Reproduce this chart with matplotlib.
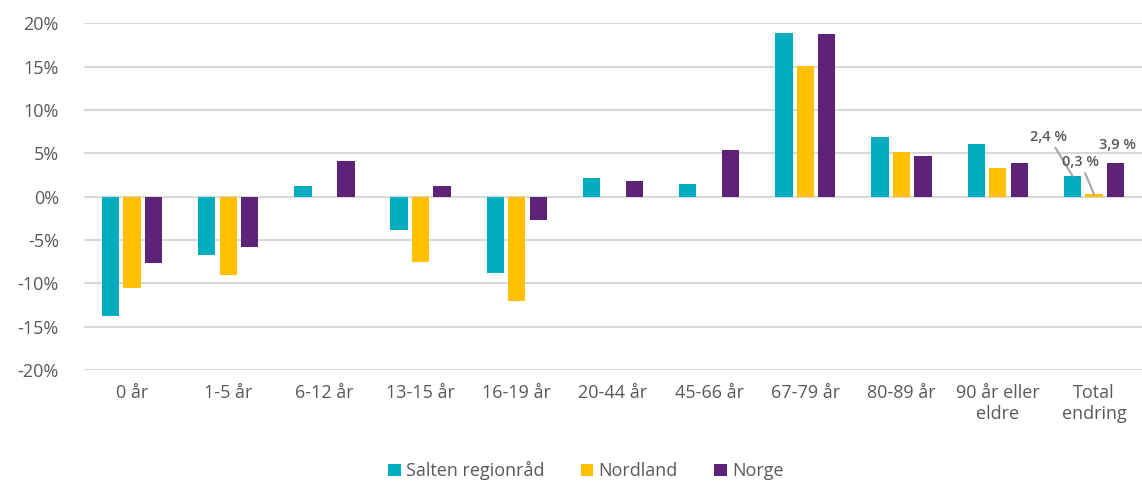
import numpy as np
from matplotlib import pyplot as plt

plt.rcParams['font.family'] = ['Open Sans', 'DejaVu Sans']

categories = ["0 år", "1-5 år", "6-12 år", "13-15 år", "16-19 år", "20-44 år",
              "45-66 år", "67-79 år", "80-89 år", "90 år eller\neldre", "Total\nendring"]
salten = [-13.8, -6.7, 1.2, -3.9, -8.8, 2.2, 1.5, 18.9, 6.9, 6.1, 2.4]
nordland = [-10.5, -9.0, 0.0, -7.5, -12.0, 0.0, 0.0, 15.1, 5.2, 3.3, 0.3]
norge = [-7.6, -5.8, 4.1, 1.2, -2.7, 1.8, 5.4, 18.8, 4.7, 3.9, 3.9]
series_names = ["Salten regionråd", "Nordland", "Norge"]
colors = ["#00ACBE", "#FFC000", "#5C2379"]

fig = plt.figure(figsize=(11.42, 4.84), dpi=100)
ax = fig.add_axes([0.0735, 0.2355, 0.9265, 0.7165])

x = np.arange(len(categories))
w = 0.18
step = 0.223
for i, (vals, name, c) in enumerate(zip([salten, nordland, norge], series_names, colors)):
    ax.bar(x + (i - 1) * step, vals, width=w, color=c, label=name, zorder=3)

ax.set_xlim(-0.5, len(categories) - 0.5)
ax.set_ylim(-20, 20)
ax.set_yticks(np.arange(-20, 21, 5))
ax.set_yticklabels([f"{v}%" for v in range(-20, 21, 5)])
ax.set_xticks(x)
ax.set_xticklabels(categories)
ax.tick_params(axis='both', length=0, labelsize=13, labelcolor="#595959")
ax.tick_params(axis='y', pad=18)
ax.tick_params(axis='x', pad=10)
ax.grid(axis='y', color="#D9D9D9", linewidth=1.5, zorder=0)
for s in ax.spines.values():
    s.set_visible(False)

# data labels for the last group
last = len(categories) - 1
lab_style = dict(fontsize=10.5, color="#595959", fontweight='semibold')
ax.annotate("2,4 %", xy=(last - step, salten[last]), xytext=(last - 0.47, 6.9),
            ha='center', va='center', **lab_style,
            arrowprops=dict(arrowstyle='-', color="#A6A6A6", lw=1.5, shrinkA=1, shrinkB=0))
ax.annotate("0,3 %", xy=(last, nordland[last]), xytext=(last - 0.14, 4.0),
            ha='center', va='center', **lab_style,
            arrowprops=dict(arrowstyle='-', color="#A6A6A6", lw=1.5, shrinkA=1, shrinkB=0))
ax.text(last + step + 0.02, norge[last] + 2.1, "3,9 %", ha='center', va='center', **lab_style)

leg = fig.legend(*ax.get_legend_handles_labels(), loc='center', bbox_to_anchor=(0.513, 0.027),
                 ncol=3, frameon=False, fontsize=13, handlelength=0.7, handleheight=0.7,
                 handletextpad=0.3, columnspacing=2.0, labelcolor="#595959")

fig.savefig("out.png", dpi=100)
